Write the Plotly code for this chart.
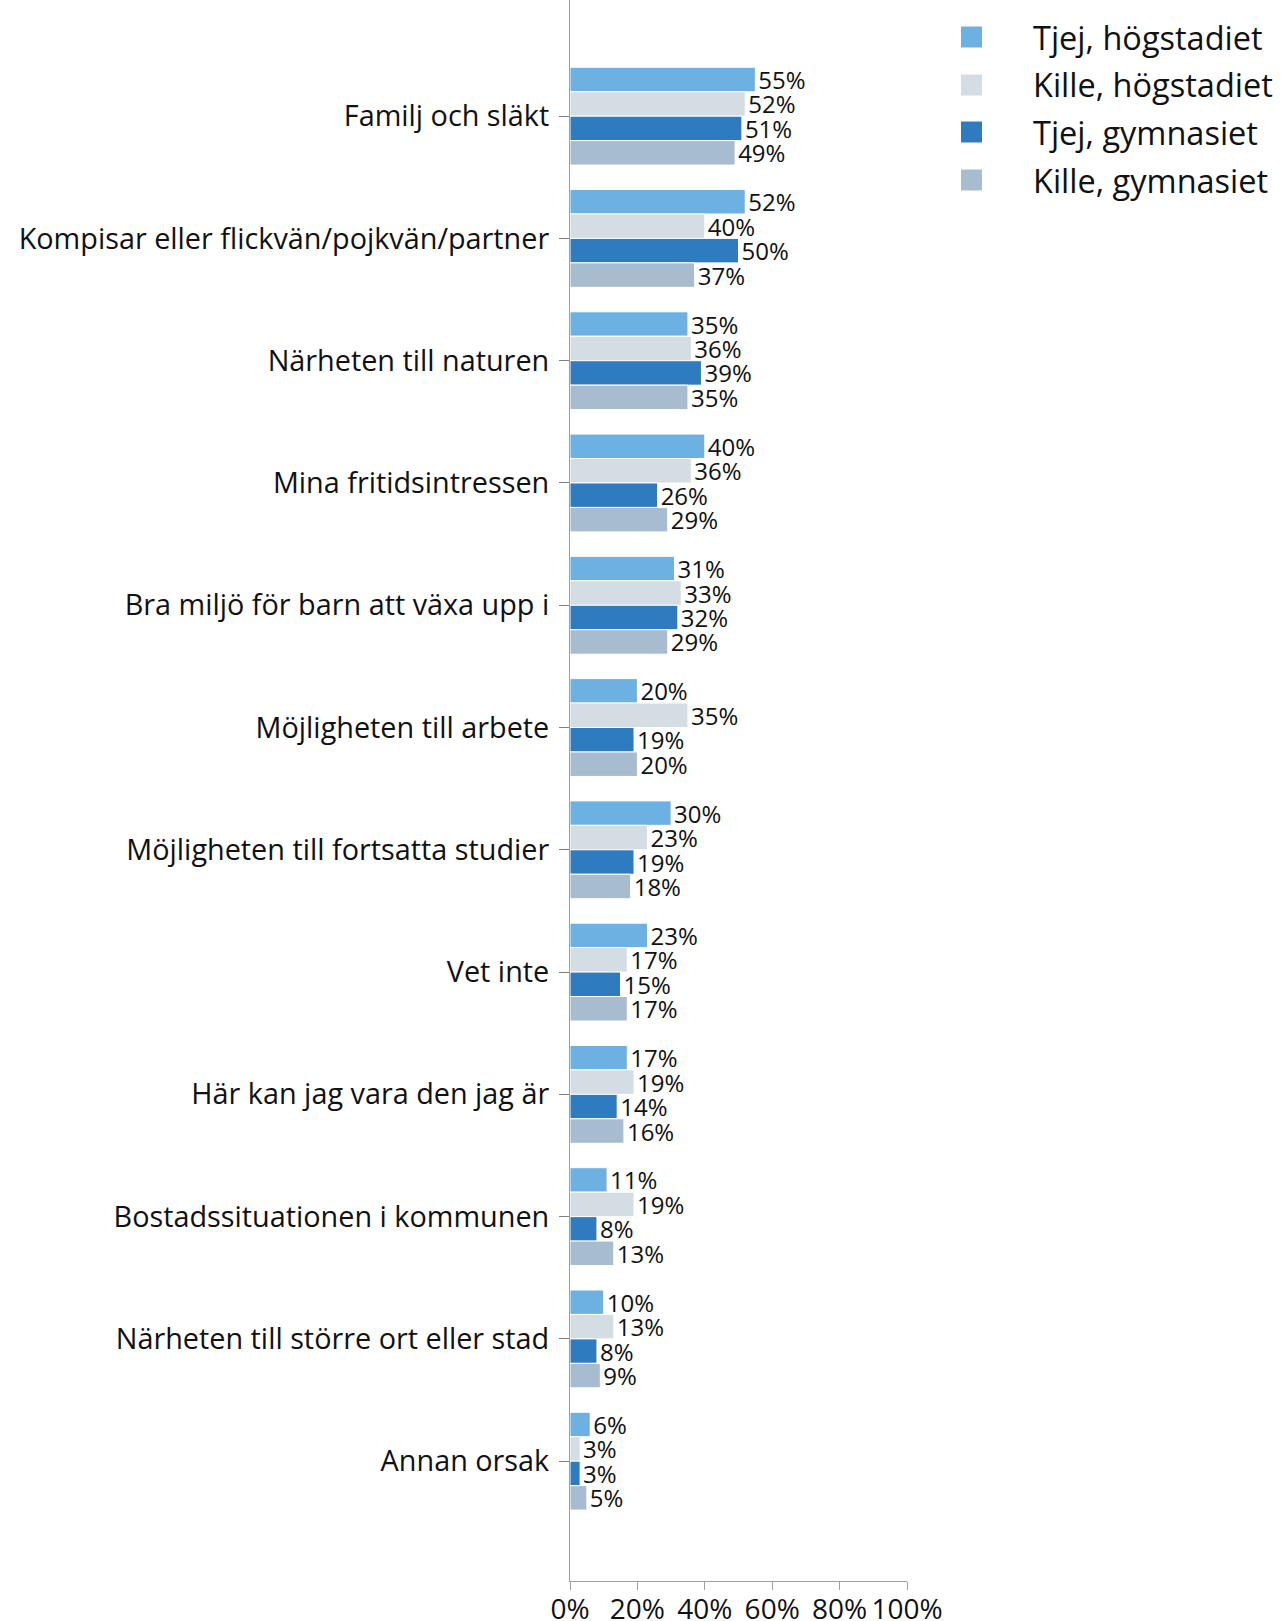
import plotly.graph_objects as go

categories = [
    "Familj och släkt",
    "Kompisar eller flickvän/pojkvän/partner",
    "Närheten till naturen",
    "Mina fritidsintressen",
    "Bra miljö för barn att växa upp i",
    "Möjligheten till arbete",
    "Möjligheten till fortsatta studier",
    "Vet inte",
    "Här kan jag vara den jag är",
    "Bostadssituationen i kommunen",
    "Närheten till större ort eller stad",
    "Annan orsak",
]

tjej_hogstadiet = [55, 52, 35, 40, 31, 20, 30, 23, 17, 11, 10, 6]
kille_hogstadiet = [52, 40, 36, 36, 33, 35, 23, 17, 19, 19, 13, 3]
tjej_gymnasiet = [51, 50, 39, 26, 32, 19, 19, 15, 14, 8, 8, 3]
kille_gymnasiet = [49, 37, 35, 29, 29, 20, 18, 17, 16, 13, 9, 5]

series_names = ["Tjej, högstadiet", "Kille, högstadiet", "Tjej, gymnasiet", "Kille, gymnasiet"]
series_values = [tjej_hogstadiet, kille_hogstadiet, tjej_gymnasiet, kille_gymnasiet]
series_colors = ["#6cb1e1", "#d3dde3", "#2f7bbf", "#a7bccf"]

x_ticks = [0, 20, 40, 60, 80, 100]

FONT = "Open Sans"
W, H = 1281, 1621
ML, MR, MT, MB = 570, 374, 0, 40
PW, PH = W - ML - MR, H - MT - MB

fig = go.Figure()
for i, (name, vals, col) in enumerate(zip(series_names, series_values, series_colors)):
    fig.add_trace(go.Bar(
        y=categories,
        x=vals,
        name=name,
        orientation="h",
        marker=dict(color=col, line=dict(color="white", width=1)),
        text=[f"{v}%" for v in vals],
        textposition="outside",
        constraintext="none",
        textfont=dict(size=24, color="#111111", family=FONT),
        cliponaxis=False,
        showlegend=False,
    ))

# custom legend (larger squares, as in the reference)
def px_x(px):
    return (px - ML) / PW

def px_y(py):
    return 1 - (py - MT) / PH

legend_centers = [37, 85, 132, 180]
for name, col, cy in zip(series_names, series_colors, legend_centers):
    fig.add_shape(
        type="rect", xref="paper", yref="paper",
        x0=px_x(961), x1=px_x(982), y0=px_y(cy - 10.5), y1=px_y(cy + 10.5),
        fillcolor=col, line=dict(width=0),
    )
    fig.add_annotation(
        xref="paper", yref="paper", x=px_x(1031), y=px_y(cy),
        xanchor="left", yanchor="middle", showarrow=False,
        text=name, font=dict(size=32.5, family=FONT, color="#111111"),
    )

fig.update_layout(
    template="none",
    width=W,
    height=H,
    margin=dict(l=ML, r=MR, t=MT, b=MB, pad=0, autoexpand=False),
    paper_bgcolor="white",
    plot_bgcolor="white",
    barmode="group",
    bargap=0.2,
    bargroupgap=0,
    font=dict(family=FONT, size=28, color="#111111"),
    showlegend=False,
    xaxis=dict(
        range=[0, 100],
        tickvals=x_ticks,
        ticktext=[f"{t}%" for t in x_ticks],
        showgrid=False,
        zeroline=False,
        showline=True,
        automargin=False,
        linecolor="#a0a0a0",
        linewidth=1,
        ticks="outside",
        ticklen=8,
        tickcolor="#a0a0a0",
        tickfont=dict(size=28, family=FONT, color="#111111"),
        ticklabelstandoff=-5,
    ),
    yaxis=dict(
        categoryorder="array",
        categoryarray=categories,
        range=[11.98, -0.95],
        showgrid=False,
        zeroline=False,
        showline=True,
        automargin=False,
        linecolor="#a0a0a0",
        linewidth=1,
        ticks="outside",
        ticklen=10,
        tickcolor="#808080",
        tickfont=dict(size=28.8, family=FONT, color="#111111"),
        ticklabelstandoff=4,
    ),
)

fig.write_html(
    "out.html",
    config={"displayModeBar": False},
    post_script="document.body.style.margin='0';",
)
